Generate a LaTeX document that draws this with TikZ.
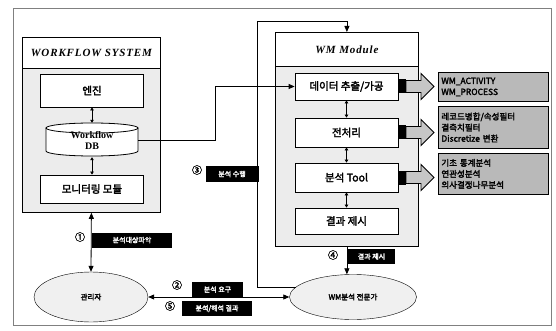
\documentclass[tikz,border=0pt]{standalone}
\usepackage{fontspec}
\setmainfont{Liberation Serif}
\newfontfamily\kr[AutoFakeBold=2.5]{Noto Sans CJK KR}
\usetikzlibrary{positioning,shapes.geometric,arrows.meta}

\tikzset{
  panel/.style={draw, thick, fill=gray!15, inner sep=0},
  head/.style={draw, thick, fill=white, inner sep=0, font=\bfseries\itshape\fontsize{11}{13}\selectfont\addfontfeature{LetterSpace=8}},
  part/.style={draw, thick, fill=white, minimum width=103, inner sep=0, font=\kr\bfseries\fontsize{10.5}{12}\selectfont},
  tag/.style={fill=black, text=white, inner sep=1.5pt, minimum height=15, font=\kr\bfseries\fontsize{7}{8}\selectfont},
  num/.style={font=\kr\bfseries\fontsize{10}{12}\selectfont, inner sep=0},
  actor/.style={ellipse, draw, fill=gray!12, inner sep=0, font=\kr\bfseries\fontsize{7.5}{9}\selectfont},
  note/.style={draw, thick, fill=gray!55, align=left, text width=104, inner sep=3pt, font=\kr\bfseries\fontsize{8.5}{11}\selectfont},
  link/.style={thick, -{Triangle[length=6pt,width=5pt]}},
  dlink/.style={thick, {Triangle[length=6pt,width=5pt]}-{Triangle[length=6pt,width=5pt]}},
  small/.style={thick, {Triangle[length=3pt,width=3.5pt]}-{Triangle[length=3pt,width=3.5pt]}},
  blk/.style={fill=black, minimum width=7, minimum height=14, inner sep=0},
  fat/.style={draw=black, line width=0.9pt, fill=gray!45},
}

\begin{document}
\begin{tikzpicture}[x=1pt, y=-1pt]
    \useasboundingbox (0,0) rectangle (556,331);
    \draw[gray, thin] (13,8) rectangle (551,325);

    \node[head, minimum width=138, minimum height=31, anchor=north west] (wftitle) at (22,37) {WORKFLOW SYSTEM};
    \node[panel, minimum width=138, minimum height=144, anchor=north west] (wfbody) at (22,68) {};
    \node[part, minimum height=33] (engine) at (92,90.5) {엔진};
    \draw[thick, fill=white] (46,128) -- (46,151) arc[start angle=180, end angle=360, x radius=46pt, y radius=5pt] -- (138,128);
    \draw[thick, fill=white] (92,128) ellipse[x radius=46pt, y radius=5pt];
    \node[minimum width=92, minimum height=34, inner sep=0, align=center, font=\bfseries\fontsize{10}{11}\selectfont] (db) at (92,140) {Workflow\\DB};
    \node[part, minimum height=28] (monitor) at (92,189) {모니터링 모듈};
    \draw[small] (engine) -- (db);
    \draw[small] (db) -- (monitor);

    \node[head, minimum width=143, minimum height=34, anchor=north west] (wmtitle) at (275,32) {WM Module};
    \node[panel, minimum width=143, minimum height=180, anchor=north west] (wmbody) at (275,66) {};
    \node[part, minimum height=27] (extract) at (346.5,86.5) {데이터 추출/가공};
    \node[part, minimum height=29] (prep) at (346.5,132.5) {전처리};
    \node[part, minimum height=29] (tool) at (346.5,177.5) {분석 Tool};
    \node[part, minimum height=26] (result) at (346.5,221) {결과 제시};
    \draw[small] (extract) -- (prep);
    \draw[small] (prep) -- (tool);
    \draw[small] (tool) -- (result);

    \node[blk, anchor=west] (k1) at (extract.east) {};
    \node[blk, anchor=west] (k2) at (prep.east) {};
    \node[blk, anchor=west] (k3) at (tool.east) {};
    \draw[fat] (406,80.5) -- (421,80.5) -- (421,73.5) -- (434,86.5) -- (421,99.5) -- (421,92.5) -- (406,92.5) -- cycle;
    \draw[fat] (406,126.5) -- (421,126.5) -- (421,119.5) -- (434,132.5) -- (421,145.5) -- (421,138.5) -- (406,138.5) -- cycle;
    \draw[fat] (406,171.5) -- (421,171.5) -- (421,164.5) -- (434,177.5) -- (421,190.5) -- (421,183.5) -- (406,183.5) -- cycle;

    \node[note, minimum height=29, anchor=north west] (g1) at (438,72) {WM\_ACTIVITY\\WM\_PROCESS};
    \node[note, minimum height=42, anchor=north west] (g2) at (438,106) {레코드병합/속성필터\\결측치필터\\Discretize 변환};
    \node[note, minimum height=41, anchor=north west] (g3) at (438,153) {기초 통계분석\\연관성분석\\의사결정나무분석};

    \node[actor, minimum width=114, minimum height=50] (manager) at (91,297) {관리자};
    \node[actor, minimum width=127, minimum height=45] (expert) at (353,297) {WM분석 전문가};

    \draw[link] (db.east) -- ++(77,0) |- (extract.west);

    \coordinate (top3) at (257,21);
    \draw[link] (expert.170) -| (top3) -| (wmtitle.north);
    \node[num] (n3) at (197,170) {③};
    \node[tag, minimum width=53] (t3) at (232,174) {분석 수행};

    \draw[dlink] (wfbody.south) -- (manager.north);
    \node[num] (n1) at (80,237) {①};
    \node[tag, minimum width=80] (t1) at (132,240) {분석대상파악};

    \draw[link] (wmbody.south) -- (wmbody.south |- expert.north);
    \node[num] (n4) at (333,255) {④};
    \node[tag, minimum width=47] (t4) at (371.5,256.5) {결과 제시};

    \draw[dlink] (manager.east) -- (expert.west);
    \node[num] (n2) at (177,285) {②};
    \node[tag, minimum width=51] (t2) at (217.5,289.5) {분석 요구};
    \node[num] (n5) at (170,306) {⑤};
    \node[tag, minimum width=70] (t5) at (217,308.5) {분석/해석 결과};
\end{tikzpicture}
\end{document}
